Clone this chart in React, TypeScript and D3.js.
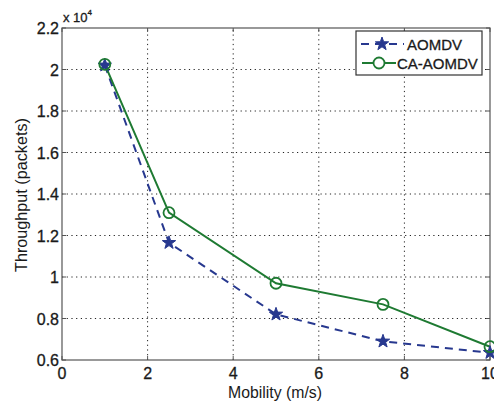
import React from "react";
import * as d3 from "d3";

const mobility = [1, 2.5, 5, 7.5, 10];
const aomdv = [2.02, 1.165, 0.82, 0.69, 0.635];
const caAomdv = [2.025, 1.31, 0.97, 0.868, 0.664];
const xTicks = [0, 2, 4, 6, 8, 10];
const yTicks = [0.6, 0.8, 1, 1.2, 1.4, 1.6, 1.8, 2, 2.2];

const W = 494;
const H = 402;
const m = { left: 62, right: 4, top: 28, bottom: 42 };

const blue = "#27388f";
const green = "#1e7a32";
const font = "'Liberation Sans', Arial, sans-serif";

const starPath = (cx: number, cy: number, r: number) => {
  const pts: [number, number][] = [];
  for (let i = 0; i < 10; i++) {
    const rr = i % 2 === 0 ? r : r * 0.4;
    const a = -Math.PI / 2 + (i * Math.PI) / 5;
    pts.push([cx + rr * Math.cos(a), cy + rr * Math.sin(a)]);
  }
  return "M" + pts.map((p) => p.join(",")).join("L") + "Z";
};

export default function App() {
  const x = d3.scaleLinear().domain([0, 10]).range([m.left, W - m.right]);
  const y = d3.scaleLinear().domain([0.6, 2.2]).range([H - m.bottom, m.top]);
  const line = d3
    .line<number>()
    .x((_, i) => x(mobility[i]))
    .y((d) => y(d));

  const x0 = x(0);
  const x1 = x(10);
  const y0 = y(0.6);
  const y1 = y(2.2);

  return (
    <svg
      width={W}
      height={H}
      style={{ position: "absolute", left: 0, top: 0, background: "#fff" }}
      fontFamily={font}
    >
      {/* grid */}
      {xTicks.slice(1, -1).map((t) => (
        <line key={"gx" + t} x1={x(t)} x2={x(t)} y1={y0} y2={y1} stroke="#222" strokeWidth={1} strokeDasharray="1.2,3.5" />
      ))}
      {yTicks.slice(1, -1).map((t) => (
        <line key={"gy" + t} x1={x0} x2={x1} y1={y(t)} y2={y(t)} stroke="#222" strokeWidth={1} strokeDasharray="1.2,3.5" />
      ))}
      {/* ticks */}
      {xTicks.map((t) => (
        <g key={"tx" + t}>
          <line x1={x(t)} x2={x(t)} y1={y0} y2={y0 - 4} stroke="#555" />
          <line x1={x(t)} x2={x(t)} y1={y1} y2={y1 + 4} stroke="#555" />
          <text x={x(t)} y={y0 + 19} textAnchor="middle" fontSize={16} fill="#1a1a1a" stroke="#1a1a1a" strokeWidth={0.3}>
            {t}
          </text>
        </g>
      ))}
      {yTicks.map((t) => (
        <g key={"ty" + t}>
          <line x1={x0} x2={x0 + 4} y1={y(t)} y2={y(t)} stroke="#555" />
          <line x1={x1} x2={x1 - 4} y1={y(t)} y2={y(t)} stroke="#555" />
          <text x={x0 - 3} y={y(t) + 6} textAnchor="end" fontSize={16} fill="#1a1a1a" stroke="#1a1a1a" strokeWidth={0.3}>
            {t}
          </text>
        </g>
      ))}
      <rect x={x0} y={y1} width={x1 - x0} height={y0 - y1} fill="none" stroke="#555" strokeWidth={1.2} />

      {/* exponent */}
      <text x={x0 + 1} y={y1 - 6} fontSize={13} fill="#1a1a1a" stroke="#1a1a1a" strokeWidth={0.3}>
        x 10
        <tspan dy={-7} fontSize={8}>4</tspan>
      </text>

      {/* series */}
      <path d={line(aomdv) ?? ""} fill="none" stroke={blue} strokeWidth={2} strokeDasharray="8,6" />
      <path d={line(caAomdv) ?? ""} fill="none" stroke={green} strokeWidth={2} />
      {aomdv.map((v, i) => (
        <path key={"s" + i} d={starPath(x(mobility[i]), y(v), 7)} fill={blue} stroke={blue} strokeWidth={1} />
      ))}
      {caAomdv.map((v, i) => (
        <circle key={"c" + i} cx={x(mobility[i])} cy={y(v)} r={5.5} fill="none" stroke={green} strokeWidth={1.8} />
      ))}

      {/* legend */}
      <rect x={356} y={31} width={126} height={44} fill="#fff" stroke="#333" strokeWidth={1.2} />
      <line x1={360} x2={404} y1={44} y2={44} stroke={blue} strokeWidth={2} strokeDasharray="8,6" strokeDashoffset={-1} />
      <path d={starPath(382, 44, 7)} fill={blue} stroke={blue} />
      <text x={407} y={50} fontSize={15} fill="#1a1a1a" stroke="#1a1a1a" strokeWidth={0.3}>AOMDV</text>
      <line x1={362} x2={396} y1={63} y2={63} stroke={green} strokeWidth={2} />
      <circle cx={379} cy={63} r={5.5} fill="#fff" stroke={green} strokeWidth={1.8} />
      <text x={397} y={69} fontSize={15} fill="#1a1a1a" stroke="#1a1a1a" strokeWidth={0.3}>CA-AOMDV</text>

      {/* axis labels */}
      <text x={275} y={398} textAnchor="middle" fontSize={15.8} fill="#1a1a1a">
        Mobility (m/s)
      </text>
      <text
        transform={`translate(27, 195) rotate(-90)`}
        textAnchor="middle"
        fontSize={16.2}
        fill="#1a1a1a"
      >
        Throughput (packets)
      </text>
    </svg>
  );
}
